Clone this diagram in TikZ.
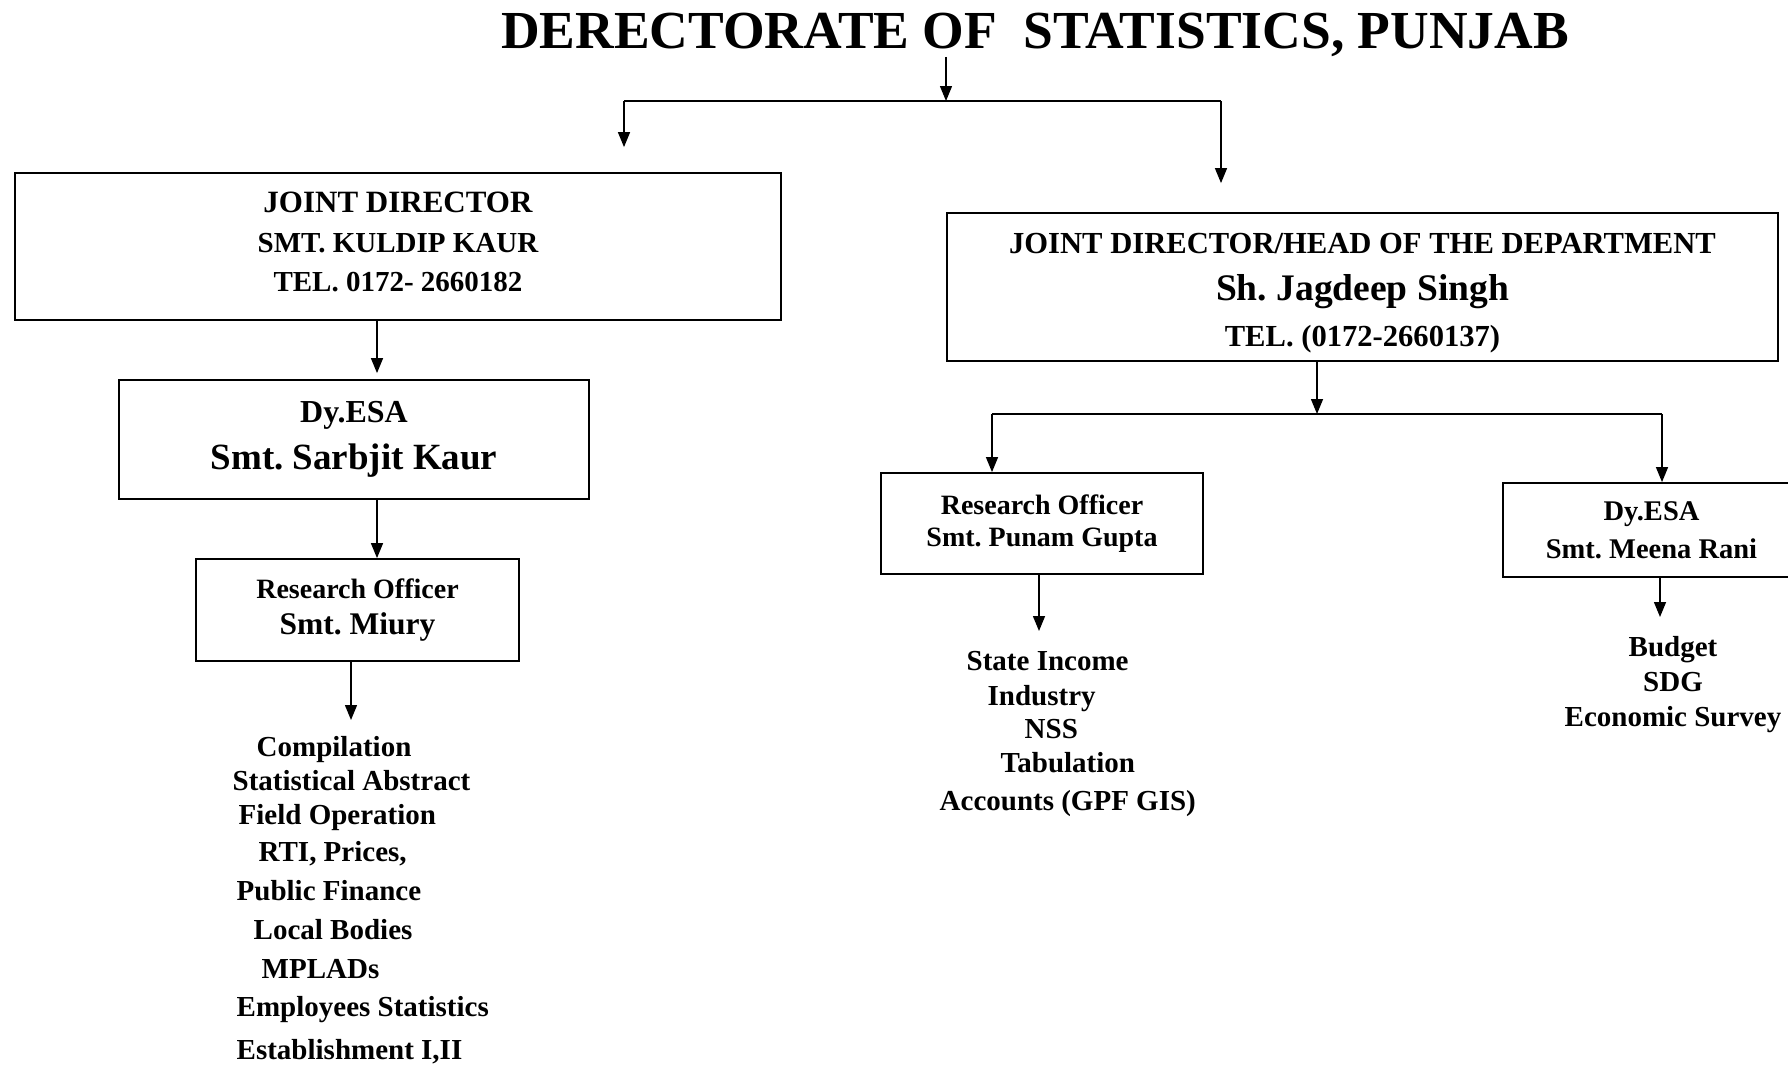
\documentclass[tikz,border=0pt]{standalone}
\usepackage{fontspec}
\setmainfont{Liberation Serif}
\frenchspacing
\usetikzlibrary{arrows.meta, calc}

\tikzset{
    postbox/.style={draw, line width=1.8pt, align=center, inner sep=0pt},
    duty/.style={inner sep=0pt, font=\fontsize{29}{34}\selectfont\bfseries},
}

\begin{document}
\begin{tikzpicture}[x=1pt, y=-1pt, line width=1.4pt, >={Triangle[length=15pt,width=12pt]}]
    \useasboundingbox (0,0) rectangle (1788,1066);
    \node[anchor=base, inner sep=0pt, font=\fontsize{53.5}{60}\selectfont\bfseries] (title) at (1035,48) {DERECTORATE OF~ STATISTICS, PUNJAB};

    % left branch
    \node[postbox, minimum width=766, minimum height=147, font=\fontsize{29}{39.5}\selectfont\bfseries] (jdA) at (398,246.5)
        {{\fontsize{31}{0}\selectfont JOINT DIRECTOR}\\SMT. KULDIP KAUR\\TEL. 0172- 2660182\rule[-9pt]{0pt}{1pt}};
    \node[postbox, minimum width=470, minimum height=119, font=\fontsize{32}{46.6}\selectfont\bfseries] (esaA) at (354,439.5)
        {Dy.ESA\\{\fontsize{37}{0}\selectfont Smt. Sarbjit Kaur}};
    \node[postbox, minimum width=323, minimum height=102, font=\fontsize{28}{36.7}\selectfont\bfseries] (roA) at (357.5,610)
        {Research Officer\\{\fontsize{31.5}{0}\selectfont Smt. Miury}};

    % right branch
    \node[postbox, minimum width=831, minimum height=148, font=\fontsize{30.6}{46.3}\selectfont\bfseries] (jdB) at (1362.5,287)
        {\rule{0pt}{33pt}JOINT DIRECTOR/HEAD OF THE DEPARTMENT\\{\fontsize{37.5}{0}\selectfont Sh. Jagdeep Singh}\\TEL. (0172-2660137)};
    \node[postbox, minimum width=322, minimum height=101, font=\fontsize{28}{32.6}\selectfont\bfseries] (roB) at (1042,523.5)
        {Research Officer\\Smt. Punam Gupta};
    \node[postbox, minimum width=297, minimum height=94, font=\fontsize{28.5}{38.3}\selectfont\bfseries] (esaB) at (1651.5,530)
        {Dy.ESA\\Smt. Meena Rani};

    % connectors
    \coordinate (fork) at (946,101);
    \coordinate (forkL) at (624,101);
    \coordinate (forkR) at (1221,101);
    \draw[->] (title.south -| fork) -- (fork);
    \draw (forkL) -- (forkR);
    \draw[->, shorten >=25pt] (forkL) -- (forkL |- jdA.north);
    \draw[->, shorten >=29pt] (forkR) -- (forkR |- jdB.north);

    \coordinate (linkA) at (377,0);
    \coordinate (tasksA) at (351,720);
    \draw[->, shorten >=6pt] (jdA.south -| linkA) -- (esaA.north -| linkA);
    \draw[->] (esaA.south -| linkA) -- (roA.north -| linkA);
    \draw[->] (roA.south -| tasksA) -- (tasksA);

    \coordinate (forkB) at (1317,414);
    \coordinate (forkBL) at (992,414);
    \coordinate (forkBR) at (1662,414);
    \coordinate (tasksB) at (1039,631);
    \coordinate (tasksC) at (1660,617);
    \draw[->] (jdB.south -| forkB) -- (forkB);
    \draw (forkBL) -- (forkBR);
    \draw[->] (forkBL) -- (forkBL |- roB.north);
    \draw[->] (forkBR) -- (forkBR |- esaB.north);
    \draw[->] (roB.south -| tasksB) -- (tasksB);
    \draw[->] (esaB.south -| tasksC) -- (tasksC);

    % duties
    \foreach \x/\y/\txt [count=\i] in {256/756.7/Compilation, 232/790/Statistical Abstract, 238/824/Field Operation,
        258/861.7/{RTI, Prices,}, 236/900.7/Public Finance, 253/939.3/Local Bodies, 261/978.3/MPLADs,
        236/1016.7/Employees Statistics, 236/1059.3/{Establishment I,II}}
        \node[duty, anchor=base west] (dutyA\i) at (\x,\y) {\txt};
    \foreach \x/\y/\txt [count=\i] in {966/670.7/State Income, 987/705/Industry, 1024/738.3/NSS,
        1000/772.3/Tabulation, 939/810.7/Accounts (GPF GIS)}
        \node[duty, anchor=base west] (dutyB\i) at (\x,\y) {\txt};
    \foreach \y/\txt [count=\i] in {656.7/Budget, 691.7/SDG, 726/Economic Survey}
        \node[duty, anchor=base] (dutyC\i) at (1673,\y) {\txt};
\end{tikzpicture}
\end{document}
